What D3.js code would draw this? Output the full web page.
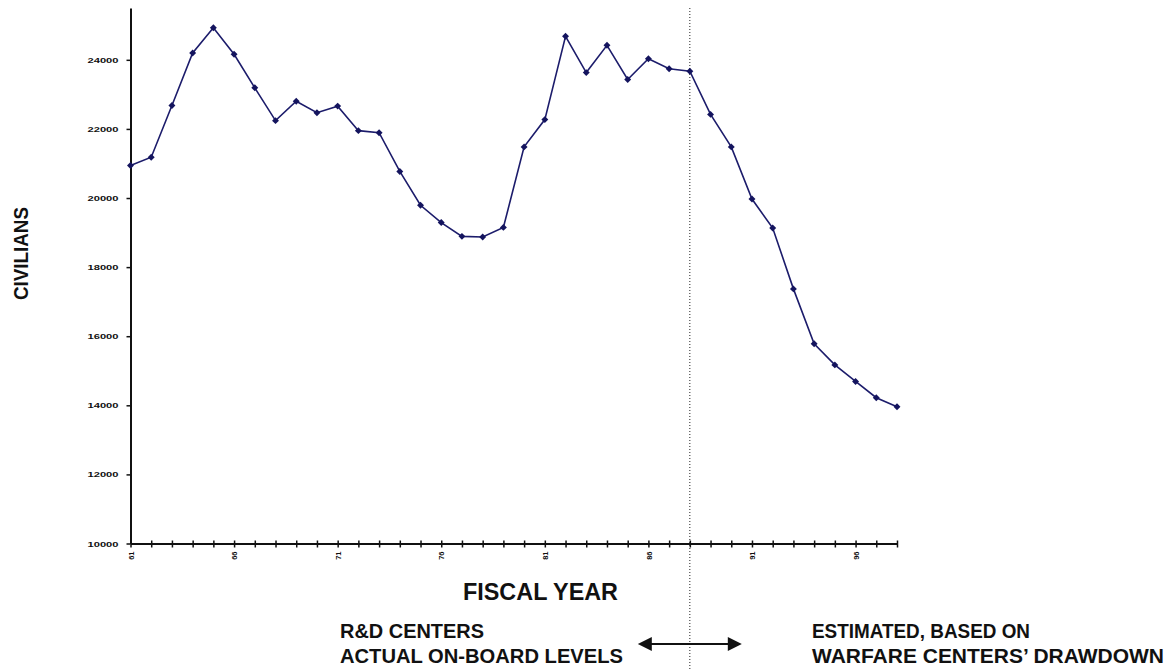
<!DOCTYPE html>
<html>
<head>
<meta charset="utf-8">
<script src="https://cdn.jsdelivr.net/npm/d3@7"></script>
<style>
    body { margin: 0; background: #ffffff; }
    svg { display: block; font-family: Arial, "Liberation Sans", sans-serif; }
</style>
</head>
<body>
<svg width="1175" height="671"></svg>
<script>
const years = [1961, 1962, 1963, 1964, 1965, 1966, 1967, 1968, 1969, 1970,
               1971, 1972, 1973, 1974, 1975, 1976, 1977, 1978, 1979, 1980,
               1981, 1982, 1983, 1984, 1985, 1986, 1987, 1988, 1989, 1990,
               1991, 1992, 1993, 1994, 1995, 1996, 1997, 1998];

const civilians = [20940, 21180, 22680, 24200, 24930, 24160, 23190, 22240, 22800, 22470,
                   22660, 21950, 21890, 20770, 19790, 19290, 18890, 18870, 19150, 21480,
                   22270, 24680, 23630, 24420, 23430, 24030, 23740, 23670, 22420, 21480,
                   19970, 19130, 17370, 15780, 15170, 14690, 14220, 13960];

const yTicks = [10000, 12000, 14000, 16000, 18000, 20000, 22000, 24000];
const xLabelYears = [1961, 1966, 1971, 1976, 1981, 1986, 1991, 1996];
const splitYear = 1988;

const leftNotes = ["R&D CENTERS", "ACTUAL ON-BOARD LEVELS"];
const rightNotes = ["ESTIMATED, BASED ON", "WARFARE CENTERS\u2019 DRAWDOWN"];

const svg = d3.select("svg");

const scX = d3.scaleLinear()
    .domain([1961, 1998])
    .range([130.5, 897]);

const scY = d3.scaleLinear()
    .domain([10000, 25500])
    .range([543.5, 8]);

drawAxes();
drawSplit();
drawLine();
drawTexts();

function drawAxes() {
    const axisY = d3.axisLeft(scY)
        .tickValues(yTicks)
        .tickSizeOuter(0)
        .tickSizeInner(4)
        .tickPadding(8)
        .tickFormat(d3.format("d"));

    const gY = svg.append("g")
        .attr("transform", `translate(${scX(1961)}, 0)`)
        .call(axisY);
    gY.select(".domain").attr("stroke", "#111").attr("stroke-width", 2);
    gY.selectAll(".tick line").attr("stroke", "#111").attr("stroke-width", 1.5);
    gY.selectAll("text")
        .attr("font-size", 8)
        .attr("font-weight", "bold")
        .attr("fill", "#111")
        .attr("textLength", 31)
        .attr("lengthAdjust", "spacingAndGlyphs");

    const axisX = d3.axisBottom(scX)
        .tickValues(years)
        .tickSizeOuter(0)
        .tickSizeInner(4)
        .tickFormat(d => xLabelYears.includes(d) ? String(d).slice(2) : "");

    const gX = svg.append("g")
        .attr("transform", `translate(0, ${scY(10000)})`)
        .call(axisX);
    gX.select(".domain").attr("stroke", "#111").attr("stroke-width", 2);
    gX.selectAll(".tick line")
        .attr("y1", -3)
        .attr("y2", 4)
        .attr("stroke", "#111")
        .attr("stroke-width", 1.5);
    gX.selectAll("text")
        .attr("font-size", 7.5)
        .attr("font-weight", "bold")
        .attr("fill", "#111")
        .attr("text-anchor", "end")
        .attr("x", -8)
        .attr("y", 0)
        .attr("dy", "0.35em")
        .attr("transform", "rotate(-90)");
}

function drawSplit() {
    const xs = scX(splitYear);
    svg.append("line")
        .attr("x1", xs)
        .attr("x2", xs)
        .attr("y1", scY(25500))
        .attr("y2", 671)
        .attr("stroke", "#222")
        .attr("stroke-width", 1)
        .attr("stroke-dasharray", "1,2");
}

function drawLine() {
    const pts = years.map((y, i) => ({ year: y, value: civilians[i] }));

    const line = d3.line()
        .x(d => scX(d.year))
        .y(d => scY(d.value));

    svg.append("path")
        .datum(pts)
        .attr("d", line)
        .attr("fill", "none")
        .attr("stroke", "#1c1c6b")
        .attr("stroke-width", 1.6);

    // excel-style diamond markers
    svg.selectAll(".marker")
        .data(pts)
        .enter()
        .append("path")
        .attr("class", "marker")
        .attr("d", d3.symbol().type(d3.symbolSquare).size(24))
        .attr("transform", d => `translate(${scX(d.year)}, ${scY(d.value)}) rotate(45)`)
        .attr("fill", "#14145e");
}

function drawTexts() {
    svg.append("text")
        .attr("transform", "translate(28, 253.5) rotate(-90)")
        .attr("text-anchor", "middle")
        .attr("font-size", 20)
        .attr("font-weight", "bold")
        .attr("fill", "#111")
        .attr("textLength", 93)
        .attr("lengthAdjust", "spacingAndGlyphs")
        .text("CIVILIANS");

    svg.append("text")
        .attr("x", 463)
        .attr("y", 600)
        .attr("font-size", 24)
        .attr("font-weight", "bold")
        .attr("fill", "#111")
        .attr("textLength", 155)
        .attr("lengthAdjust", "spacingAndGlyphs")
        .text("FISCAL YEAR");

    const noteLens = [[144, 283], [218, 352]];
    const noteX = [340, 812];
    [leftNotes, rightNotes].forEach((lines, k) => {
        lines.forEach((t, i) => {
            svg.append("text")
                .attr("x", noteX[k])
                .attr("y", 638 + i * 25)
                .attr("font-size", 21)
                .attr("font-weight", "bold")
                .attr("fill", "#111")
                .attr("textLength", noteLens[k][i])
                .attr("lengthAdjust", "spacingAndGlyphs")
                .text(t);
        });
    });

    // double-headed arrow across the split line
    const xs = scX(splitYear);
    const ay = 644;
    svg.append("line")
        .attr("x1", xs - 40)
        .attr("x2", xs + 40)
        .attr("y1", ay)
        .attr("y2", ay)
        .attr("stroke", "#111")
        .attr("stroke-width", 2);
    svg.append("path")
        .attr("d", `M${xs - 52},${ay} L${xs - 38},${ay - 7} L${xs - 38},${ay + 7} Z`)
        .attr("fill", "#111");
    svg.append("path")
        .attr("d", `M${xs + 52},${ay} L${xs + 38},${ay - 7} L${xs + 38},${ay + 7} Z`)
        .attr("fill", "#111");
}
</script>
</body>
</html>
